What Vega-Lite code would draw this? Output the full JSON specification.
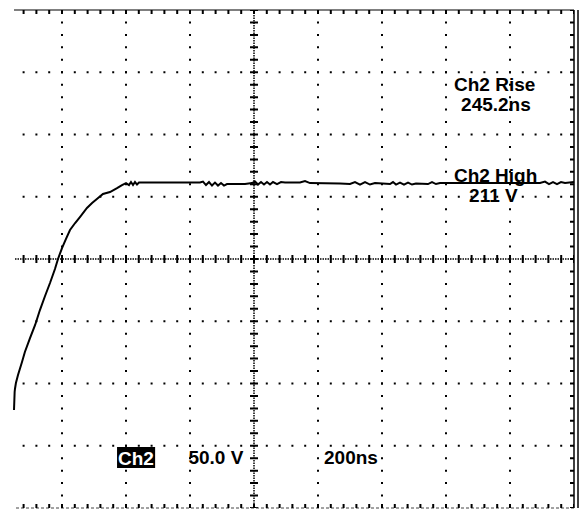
{
  "$schema": "https://vega.github.io/schema/vega-lite/v6.json",
  "width": 560,
  "height": 498,
  "autosize": "none",
  "padding": {"left": 14, "top": 10, "right": 8, "bottom": 1},
  "background": "white",
  "config": {"view": {"stroke": null}, "axis": {"disable": true}},
  "data": {"values": [{}]},
  "datasets": {
    "hgrid": [{"V": 0}, {"V": 50}, {"V": 100}, {"V": 200}, {"V": 250}, {"V": 300}],
    "vgrid": [{"t": -600}, {"t": -400}, {"t": -200}, {"t": 200}, {"t": 400}, {"t": 600}, {"t": 800}],
    "wave": [
      {"t": -750, "V": 28.7}, {"t": -748, "V": 43.2}, {"t": -747, "V": 45.6}, {"t": -744, "V": 50.4},
      {"t": -737.5, "V": 56.8}, {"t": -725, "V": 67.3}, {"t": -716, "V": 75.3}, {"t": -700, "V": 86.5},
      {"t": -684, "V": 97.0}, {"t": -669, "V": 109.0}, {"t": -653, "V": 120.3}, {"t": -637.5, "V": 130.7},
      {"t": -622, "V": 142.0}, {"t": -612.5, "V": 150.0}, {"t": -600, "V": 158.8}, {"t": -587.5, "V": 166.1},
      {"t": -575, "V": 173.3}, {"t": -559, "V": 178.9}, {"t": -544, "V": 183.7}, {"t": -522, "V": 191.0},
      {"t": -506, "V": 195.0}, {"t": -491, "V": 198.2}, {"t": -472, "V": 202.2}, {"t": -450, "V": 203.8},
      {"t": -428, "V": 207.0}, {"t": -412.5, "V": 209.4}, {"t": -400, "V": 211.0},
      {"t": -390.6, "V": 209.4}, {"t": -384.4, "V": 211.8}, {"t": -378.1, "V": 209.4}, {"t": -371.9, "V": 211.8},
      {"t": -365.6, "V": 209.8}, {"t": -359.4, "V": 211.4}, {"t": -340.6, "V": 211.4}, {"t": -262.5, "V": 211.4},
      {"t": -168.75, "V": 211.4}, {"t": -159.4, "V": 212.2}, {"t": -150, "V": 209.4}, {"t": -140.6, "V": 211.8},
      {"t": -131.25, "V": 209.0}, {"t": -121.9, "V": 211.4}, {"t": -112.5, "V": 209.0}, {"t": -103.1, "V": 211.0},
      {"t": -93.75, "V": 209.0}, {"t": -84.4, "V": 210.2}, {"t": -28.1, "V": 210.2}, {"t": -6.25, "V": 211.0},
      {"t": 3.1, "V": 212.2}, {"t": 12.5, "V": 209.8}, {"t": 21.9, "V": 211.8}, {"t": 31.25, "V": 209.8},
      {"t": 40.6, "V": 211.8}, {"t": 50, "V": 209.8}, {"t": 59.4, "V": 211.8}, {"t": 71.9, "V": 210.2},
      {"t": 84.4, "V": 211.8}, {"t": 96.9, "V": 211.4}, {"t": 143.75, "V": 211.4}, {"t": 159.4, "V": 212.6},
      {"t": 175, "V": 211.0}, {"t": 268.75, "V": 210.6}, {"t": 300, "V": 210.2}, {"t": 315.6, "V": 211.8},
      {"t": 331.25, "V": 209.8}, {"t": 346.9, "V": 211.8}, {"t": 362.5, "V": 209.8}, {"t": 378.1, "V": 211.0},
      {"t": 425, "V": 210.2}, {"t": 434.4, "V": 211.8}, {"t": 443.75, "V": 209.8}, {"t": 456.25, "V": 211.4},
      {"t": 468.75, "V": 209.8}, {"t": 481.25, "V": 211.4}, {"t": 493.75, "V": 209.8}, {"t": 506.25, "V": 210.6},
      {"t": 543.75, "V": 210.2}, {"t": 556.25, "V": 211.8}, {"t": 568.75, "V": 210.2}, {"t": 581.25, "V": 211.0},
      {"t": 675, "V": 211.0}, {"t": 831.25, "V": 211.0}, {"t": 893.75, "V": 211.0}, {"t": 909.4, "V": 212.2},
      {"t": 921.9, "V": 210.2}, {"t": 934.4, "V": 211.8}, {"t": 946.9, "V": 210.2}, {"t": 959.4, "V": 211.8},
      {"t": 971.9, "V": 211.0}, {"t": 1000, "V": 211.8}
    ],
    "labels": [
      {"t": 752, "V": 285.0, "text": "Ch2 Rise"},
      {"t": 756, "V": 269.2, "text": "245.2ns"},
      {"t": 755, "V": 211.8, "text": "Ch2 High"},
      {"t": 748, "V": 195.8, "text": "211 V"},
      {"t": -119, "V": -14.6, "text": "50.0 V"},
      {"t": 303, "V": -14.6, "text": "200ns"}
    ],
    "chbox": [{"t1": -428, "t2": -309, "V1": -1, "V2": -17.9, "text": "Ch2", "tc": -369, "Vt": -15.4}]
  },
  "layer": [
    {
      "data": {"name": "hgrid"},
      "mark": {"type": "rule", "color": "#000", "strokeWidth": 2, "strokeDash": [2, 10.8], "strokeDashOffset": 1},
      "encoding": {
        "x": {"datum": 1000, "type": "quantitative", "scale": {"domain": [-750, 1000], "nice": false, "zero": false}},
        "x2": {"datum": -750},
        "y": {"field": "V", "type": "quantitative", "scale": {"domain": [-50, 350], "nice": false, "zero": false}}
      }
    },
    {
      "data": {"name": "vgrid"},
      "mark": {"type": "rule", "color": "#000", "strokeWidth": 2, "strokeDash": [2, 10.45], "strokeDashOffset": 1},
      "encoding": {
        "x": {"field": "t", "type": "quantitative"},
        "y": {"datum": 350, "type": "quantitative"},
        "y2": {"datum": -50}
      }
    },
    {
      "mark": {"type": "rule", "color": "#000", "strokeWidth": 1.5, "strokeDash": [1.5, 1]},
      "encoding": {"x": {"datum": 0, "type": "quantitative"}, "y": {"datum": 350, "type": "quantitative"}, "y2": {"datum": -50}}
    },
    {
      "mark": {"type": "rule", "color": "#000", "strokeWidth": 8, "strokeDash": [2, 10.45], "strokeDashOffset": 1},
      "encoding": {"x": {"datum": 0, "type": "quantitative"}, "y": {"datum": 350, "type": "quantitative"}, "y2": {"datum": -50}}
    },
    {
      "mark": {"type": "rule", "color": "#000", "strokeWidth": 1.5, "strokeDash": [1.5, 1]},
      "encoding": {"x": {"datum": 1000, "type": "quantitative"}, "x2": {"datum": -750}, "y": {"datum": 150, "type": "quantitative"}}
    },
    {
      "mark": {"type": "rule", "color": "#000", "strokeWidth": 8, "strokeDash": [2, 10.8], "strokeDashOffset": 1},
      "encoding": {"x": {"datum": 1000, "type": "quantitative"}, "x2": {"datum": -750}, "y": {"datum": 150, "type": "quantitative"}}
    },
    {
      "mark": {"type": "rule", "color": "#000", "strokeWidth": 1.2},
      "encoding": {"x": {"datum": 1000, "type": "quantitative"}, "x2": {"datum": -750}, "y": {"datum": 350, "type": "quantitative"}}
    },
    {
      "mark": {"type": "rule", "color": "#000", "strokeWidth": 4, "yOffset": 2, "strokeDash": [2, 10.8], "strokeDashOffset": 1},
      "encoding": {"x": {"datum": 1000, "type": "quantitative"}, "x2": {"datum": -750}, "y": {"datum": 350, "type": "quantitative"}}
    },
    {
      "mark": {"type": "rule", "color": "#444", "strokeWidth": 1, "strokeDash": [3, 2]},
      "encoding": {"x": {"datum": 1000, "type": "quantitative"}, "x2": {"datum": -750}, "y": {"datum": -50, "type": "quantitative"}}
    },
    {
      "mark": {"type": "rule", "color": "#000", "strokeWidth": 4, "yOffset": -2, "strokeDash": [2, 10.8], "strokeDashOffset": 1},
      "encoding": {"x": {"datum": 1000, "type": "quantitative"}, "x2": {"datum": -750}, "y": {"datum": -50, "type": "quantitative"}}
    },
    {
      "mark": {"type": "rule", "color": "#000", "strokeWidth": 1.5},
      "encoding": {"x": {"datum": 1000, "type": "quantitative"}, "y": {"datum": 350, "type": "quantitative"}, "y2": {"datum": -50}}
    },
    {
      "mark": {"type": "rule", "color": "#000", "strokeWidth": 1.5, "xOffset": 4},
      "encoding": {"x": {"datum": 1000, "type": "quantitative"}, "y": {"datum": 350, "type": "quantitative"}, "y2": {"datum": -50}}
    },
    {
      "mark": {"type": "rule", "color": "#000", "strokeWidth": 4, "xOffset": -2, "strokeDash": [2, 10.45], "strokeDashOffset": 1},
      "encoding": {"x": {"datum": 1000, "type": "quantitative"}, "y": {"datum": 350, "type": "quantitative"}, "y2": {"datum": -50}}
    },
    {
      "data": {"name": "wave"},
      "mark": {"type": "line", "color": "#000", "strokeWidth": 2, "interpolate": "linear"},
      "encoding": {
        "x": {"field": "t", "type": "quantitative"},
        "y": {"field": "V", "type": "quantitative"},
        "order": {"field": "t", "type": "quantitative"}
      }
    },
    {
      "data": {"name": "labels"},
      "mark": {"type": "text", "font": "Liberation Sans", "fontWeight": "bold", "fontSize": 19, "align": "center", "baseline": "alphabetic", "color": "#000"},
      "encoding": {
        "x": {"field": "t", "type": "quantitative"},
        "y": {"field": "V", "type": "quantitative"},
        "text": {"field": "text"}
      }
    },
    {
      "data": {"name": "chbox"},
      "mark": {"type": "rect", "color": "#000"},
      "encoding": {
        "x": {"field": "t1", "type": "quantitative"},
        "x2": {"field": "t2"},
        "y": {"field": "V1", "type": "quantitative"},
        "y2": {"field": "V2"}
      }
    },
    {
      "data": {"name": "chbox"},
      "mark": {"type": "text", "font": "Liberation Sans", "fontWeight": "bold", "fontSize": 19, "align": "center", "baseline": "alphabetic", "color": "#fff"},
      "encoding": {
        "x": {"field": "tc", "type": "quantitative"},
        "y": {"field": "Vt", "type": "quantitative"},
        "text": {"field": "text"}
      }
    }
  ]
}
